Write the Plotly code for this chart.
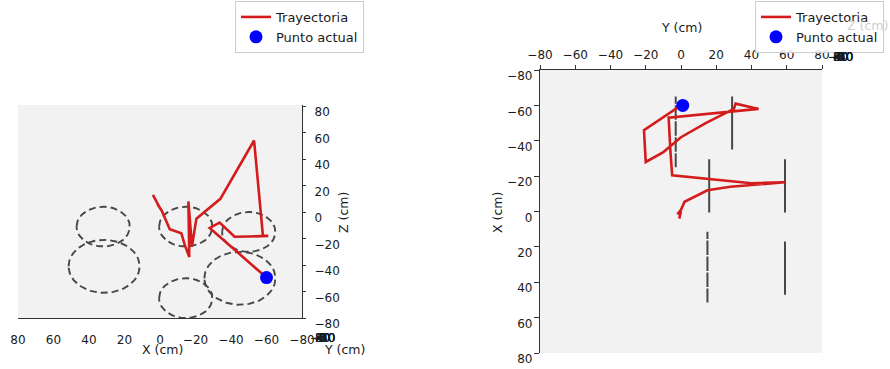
import numpy as np
import plotly.graph_objects as go

# ---------------- data ----------------
# trajectory (cm)
traj_x = [4, 0, 1.5, -1, -5.5, -12, -14, -16.5, -16, -18, -20.5, -34, -53, -58, -61, -58, -50, -42, -33.6, -28, -46, -58, -60]
traj_y = [-1, 0, -2, 0, 2, 15, 28, 59, 40, 18, -5, -6, -7, 44, 31, 30, 14, 0, -10, -20, -21, -3, 1]
traj_z = [13, 3, 6, 1, -13, -16, -25, -34, 8, -26, -5, 10, 54, -18, -18, -18.5, -18.5, -18.7, -8, -12, -33, -47, -49.5]
# current point
cur_x = [-60]
cur_y = [1]
cur_z = [-49.5]
# obstacles: rings lying in planes of constant Y
ring_cx = [-45, -50, -14.5, -14.5, 31.5, 32]
ring_cy = [-3, 29, 16, 59, 15, 59]
ring_cz = [-50, -15, -11, -65, -41, -11]
ring_r = [20, 15, 15, 15, 20, 15]
tick_vals = [-80, -60, -40, -20, 0, 20, 40, 60, 80]

W, H = 890, 369
FONT = "DejaVu Sans"
TXT = "#1a1a1a"
RED = "#d41c1c"
RING = "#474747"

# ring outlines
t = np.linspace(0, 2 * np.pi, 97)
side_x, side_z, top_y, top_x = [], [], [], []
for cx, cy, cz, r in zip(ring_cx, ring_cy, ring_cz, ring_r):
    side_x += list(cx + r * np.cos(t)) + [None]
    side_z += list(cz + r * np.sin(t)) + [None]
    top_y += [cy] * len(t) + [None]
    top_x += list(cx + r * np.cos(t)) + [None]

fig = go.Figure()

# ---------- left panel: X-Z view ----------
fig.add_trace(go.Scatter(x=side_x, y=side_z, mode="lines", xaxis="x", yaxis="y",
                         line=dict(color=RING, width=1.9, dash="7px,4px"),
                         showlegend=False, hoverinfo="skip"))
fig.add_trace(go.Scatter(x=traj_x, y=traj_z, mode="lines", xaxis="x", yaxis="y",
                         line=dict(color=RED, width=2.6), name="Trayectoria", legend="legend"))
fig.add_trace(go.Scatter(x=cur_x, y=cur_z, mode="markers", xaxis="x", yaxis="y",
                         marker=dict(color="#0000ff", size=13), name="Punto actual", legend="legend"))

# ---------- right panel: Y-X (top) view ----------
fig.add_trace(go.Scatter(x=top_y, y=top_x, mode="lines", xaxis="x2", yaxis="y2",
                         line=dict(color=RING, width=2, dash="14px,2px"),
                         showlegend=False, hoverinfo="skip"))
fig.add_trace(go.Scatter(x=traj_y, y=traj_x, mode="lines", xaxis="x2", yaxis="y2",
                         line=dict(color=RED, width=2.6), name="Trayectoria", legend="legend2"))
fig.add_trace(go.Scatter(x=cur_y, y=cur_x, mode="markers", xaxis="x2", yaxis="y2",
                         marker=dict(color="#0000ff", size=13), name="Punto actual", legend="legend2"))

def px(x):
    return x / W

def py(y):
    return 1 - y / H

tickfont = dict(family=FONT, size=12, color=TXT)
axcommon = dict(showgrid=False, zeroline=False, tickvals=tick_vals, tickfont=tickfont,
                showline=True, linecolor="#333333", linewidth=1.3, tickcolor="#333333",
                automargin=False)

annotations = []
def ann(x, y, text, angle=0, color=TXT, size=12.5):
    annotations.append(dict(x=px(x), y=py(y), xref="paper", yref="paper", text=text,
                            showarrow=False, textangle=angle, xanchor="center", yanchor="middle",
                            font=dict(family=FONT, size=size, color=color)))

def fmt(v):
    return ("\u2212" + str(-v)) if v < 0 else str(v)

# left panel titles and collapsed Y-axis labels
ann(162, 349, "X (cm)")
ann(344, 349, "Y (cm)")
ann(343, 213, "Z (cm)", angle=-90)
for v in tick_vals:
    ann(322, 338, fmt(v), size=12)
# right panel titles and collapsed Z-axis labels
ann(681, 28, "Y (cm)")
ann(497, 213, "X (cm)", angle=-90)
ann(867, 26, "Z (cm)", color="#cfcfcf")
for v in tick_vals:
    ann(840, 57, fmt(v), size=12)

legend_common = dict(bgcolor="rgba(255,255,255,0.85)", bordercolor="#cccccc", borderwidth=1,
                     font=dict(family=FONT, size=13, color=TXT), xanchor="left", yanchor="top",
                     itemwidth=30, tracegroupgap=0)

fig.update_layout(
    width=W, height=H,
    margin=dict(l=0, r=0, t=0, b=0, autoexpand=False),
    paper_bgcolor="white",
    plot_bgcolor="#f2f2f2",
    font=dict(family=FONT, size=12, color=TXT),
    xaxis=dict(domain=[px(18), px(302)], range=[80, -80], anchor="y", ticks="",
               ticklabelstandoff=10, **axcommon),
    yaxis=dict(domain=[py(318), py(105)], range=[-80, 80.8], anchor="x", side="right",
               ticks="outside", ticklen=3, ticklabelstandoff=6, ticklabelshift=6, **axcommon),
    xaxis2=dict(domain=[px(540), px(822)], range=[-80, 80], anchor="y2", side="top",
                ticks="outside", ticklen=4, ticklabelstandoff=1, **axcommon),
    yaxis2=dict(domain=[py(353), py(70)], range=[80, -80], anchor="x2", side="left",
                ticks="outside", ticklen=5, ticklabelstandoff=-1, ticklabelshift=-6, **axcommon),
    legend=dict(x=px(235), y=py(1), **legend_common),
    legend2=dict(x=px(755), y=py(1), **legend_common),
    annotations=annotations,
    showlegend=True,
)

fig.write_html("out.html")
